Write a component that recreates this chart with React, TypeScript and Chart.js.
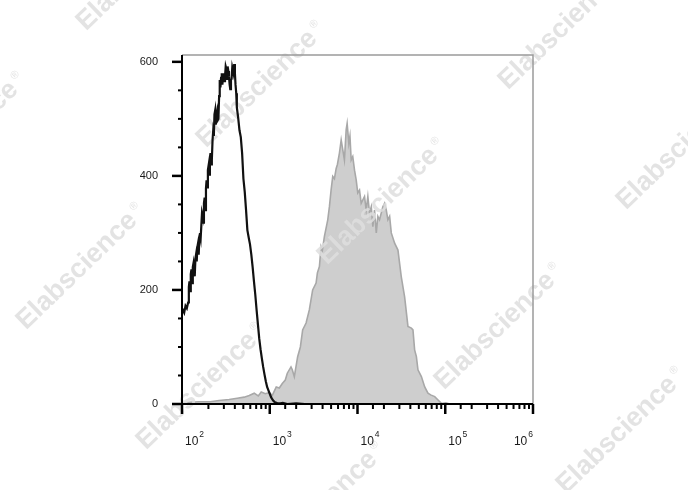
import React, { useEffect, useRef } from "react";
import { Chart, registerables } from "chart.js";

Chart.register(...registerables);

// ---- data (x as log10 of fluorescence intensity, y as event count) ----
const yTickValues = [0, 200, 400, 600];
const yMinorTicks = [50, 100, 150, 250, 300, 350, 450, 500, 550];
const xDecades = [2, 3, 4, 5, 6];

const blackLog = [
  1.98, 1.995, 2.01, 2.025, 2.04, 2.055, 2.07, 2.078, 2.085, 2.093, 2.1, 2.108,
  2.115, 2.123, 2.13, 2.138, 2.145, 2.153, 2.16, 2.168, 2.175, 2.183, 2.19, 2.198,
  2.205, 2.213, 2.22, 2.228, 2.235, 2.243, 2.25, 2.258, 2.265, 2.273, 2.28, 2.288,
  2.295, 2.303, 2.31, 2.318, 2.325, 2.333, 2.34, 2.348, 2.355, 2.363, 2.37, 2.378,
  2.385, 2.393, 2.4, 2.408, 2.415, 2.423, 2.43, 2.438, 2.445, 2.453, 2.46, 2.468,
  2.475, 2.483, 2.49, 2.498, 2.505, 2.513, 2.52, 2.528, 2.535, 2.543, 2.55, 2.558,
  2.565, 2.573, 2.58, 2.588, 2.595, 2.603, 2.61, 2.618, 2.625, 2.64, 2.655, 2.67,
  2.685, 2.7, 2.715, 2.73, 2.745, 2.76, 2.775, 2.79, 2.805, 2.82, 2.835, 2.85,
  2.865, 2.88, 2.895, 2.91, 2.925, 2.94, 2.955, 2.97, 2.985, 3.0, 3.015, 3.03,
  3.045, 3.06, 3.075, 3.09, 3.12, 3.15, 3.2, 3.3, 3.4, 4.0, 6.0,
];
const blackCounts = [
  150, 158, 165, 160, 172, 168, 178, 205, 215, 198, 228, 236,
  212, 240, 246, 230, 224, 255, 262, 250, 275, 282, 262, 290,
  300, 292, 312, 335, 330, 318, 352, 362, 340, 378, 392, 380,
  410, 418, 402, 432, 440, 420, 428, 462, 478, 470, 508, 515,
  490, 505, 512, 498, 500, 540, 568, 555, 572, 580, 560, 575,
  580, 566, 574, 592, 588, 570, 592, 584, 575, 560, 552, 568,
  570, 590, 585, 576, 596, 580, 560, 545, 520, 502, 480, 468,
  440, 395, 372, 340, 305, 292, 280, 262, 240, 215, 192, 165,
  140, 115, 96, 80, 65, 52, 40, 30, 24, 18, 12, 8,
  5, 3, 2, 1, 1, 2, 0, 1, 0, 0, 0,
];

const greyLog = [
  2.0, 2.08, 2.194, 2.32, 2.423, 2.537, 2.629, 2.709, 2.766, 2.823, 2.869, 2.903,
  2.949, 2.994, 3.029, 3.074, 3.109, 3.143, 3.177, 3.2, 3.242, 3.257, 3.28, 3.318,
  3.349, 3.375, 3.414, 3.451, 3.489, 3.528, 3.543, 3.566, 3.585, 3.6, 3.623, 3.661,
  3.68, 3.699, 3.718, 3.737, 3.757, 3.771, 3.794, 3.814, 3.832, 3.851, 3.871, 3.882,
  3.901, 3.914, 3.928, 3.946, 3.966, 3.985, 4.003, 4.023, 4.042, 4.08, 4.099, 4.118,
  4.137, 4.157, 4.175, 4.194, 4.214, 4.232, 4.251, 4.289, 4.309, 4.328, 4.346, 4.366,
  4.385, 4.423, 4.461, 4.499, 4.537, 4.575, 4.614, 4.632, 4.651, 4.671, 4.689, 4.728,
  4.766, 4.803, 4.834, 4.88, 4.918, 4.957, 5.006, 5.051, 5.166,
];
const greyCounts = [
  2, 3, 4, 4, 6, 8, 10, 12, 15, 19, 14, 21,
  18, 20, 15, 30, 28, 36, 42, 54, 65, 60, 48, 83,
  100, 130, 142, 165, 200, 212, 230, 241, 276, 270, 294, 323,
  346, 375, 399, 395, 413, 420, 440, 463, 446, 428, 481, 492,
  457, 470, 428, 434, 410, 393, 370, 375, 352, 364, 340, 364,
  335, 346, 311, 340, 300, 329, 323, 346, 352, 340, 323, 329,
  300, 282, 270, 223, 188, 136, 133, 130, 95, 83, 60, 48,
  30, 19, 16, 13, 7, 1, 2, 0, 0,
];

const watermarkText = "Elabscience";
const watermarkCenters: [number, number][] = [
  [137, -28], [257, 89], [378, 206], [495, 331], [617, 435],
  [-42, 140], [77, 271], [197, 391], [317, 510],
  [559, 31], [677, 151],
];

const FONT = "'Liberation Sans', Arial, Helvetica, sans-serif";

function drawWatermark(ctx: CanvasRenderingContext2D) {
  ctx.save();
  ctx.fillStyle = "rgba(222,222,222,0.85)";
  ctx.textBaseline = "middle";
  for (const [cx, cy] of watermarkCenters) {
    ctx.save();
    ctx.translate(cx, cy);
    ctx.rotate((-44 * Math.PI) / 180);
    ctx.font = `bold 27px ${FONT}`;
    const w = ctx.measureText(watermarkText).width;
    ctx.textAlign = "left";
    ctx.fillText(watermarkText, -w / 2, 0);
    ctx.font = `11px ${FONT}`;
    ctx.fillText("\u00AE", w / 2 + 4, -7);
    ctx.restore();
  }
  ctx.restore();
}

export default function App() {
  const ref = useRef<HTMLCanvasElement>(null);

  useEffect(() => {
    const canvas = ref.current;
    if (!canvas) return;

    const decor = {
      id: "decor",
      afterDatasetDraw(chart: any, args: any) {
        if (args.index !== 1) return;
        drawWatermark(chart.ctx);
      },
      afterDraw(chart: any) {
        const ctx: CanvasRenderingContext2D = chart.ctx;
        const { left, right, top, bottom } = chart.chartArea;
        const xs = chart.scales.x;
        const ys = chart.scales.y;
        ctx.save();
        // frame (top & right)
        ctx.strokeStyle = "#9a9a9a";
        ctx.lineWidth = 1.5;
        ctx.beginPath();
        ctx.moveTo(left, top);
        ctx.lineTo(right, top);
        ctx.lineTo(right, bottom);
        ctx.stroke();

        ctx.strokeStyle = "#000";
        // y ticks
        for (const v of yTickValues) {
          const py = ys.getPixelForValue(v);
          ctx.lineWidth = 2.5;
          ctx.beginPath();
          ctx.moveTo(left - 10, py);
          ctx.lineTo(left, py);
          ctx.stroke();
        }
        for (const v of yMinorTicks) {
          const py = ys.getPixelForValue(v);
          ctx.lineWidth = 2;
          ctx.beginPath();
          ctx.moveTo(left - 4, py);
          ctx.lineTo(left, py);
          ctx.stroke();
        }
        // x ticks from the log scale
        for (const t of xs.ticks) {
          const v = t.value;
          const e = Math.log10(v);
          const major = Math.abs(e - Math.round(e)) < 1e-9;
          const px = xs.getPixelForValue(v);
          ctx.lineWidth = major ? 2.5 : 2;
          ctx.beginPath();
          ctx.moveTo(px, bottom);
          ctx.lineTo(px, bottom + (major ? 10 : 5));
          ctx.stroke();
        }
        // axis lines
        ctx.lineWidth = 2;
        ctx.beginPath();
        ctx.moveTo(left, top);
        ctx.lineTo(left, bottom);
        ctx.lineTo(right, bottom);
        ctx.stroke();

        // x labels 10^n
        ctx.fillStyle = "#1a1a1a";
        ctx.textBaseline = "alphabetic";
        xDecades.forEach((n, i) => {
          const px = xs.getPixelForValue(Math.pow(10, n));
          ctx.font = `12px ${FONT}`;
          const wBase = ctx.measureText("10").width;
          ctx.font = `8.5px ${FONT}`;
          const wExp = ctx.measureText(String(n)).width;
          const total = wBase + 1 + wExp;
          let x0 = px + 3;
          if (i === xDecades.length - 1) x0 = px - total;
          ctx.font = `12px ${FONT}`;
          ctx.textAlign = "left";
          ctx.fillText("10", x0, bottom + 41);
          ctx.font = `8.5px ${FONT}`;
          ctx.fillText(String(n), x0 + wBase + 1, bottom + 33);
        });
        ctx.restore();
      },
    };

    const chart = new Chart(canvas, {
      type: "line",
      data: {
        datasets: [
          {
            label: "Control",
            data: blackLog.map((e, i) => ({ x: Math.pow(10, e), y: blackCounts[i] })),
            borderColor: "#111111",
            borderWidth: 2.2,
            fill: false,
            pointRadius: 0,
            tension: 0,
          },
          {
            label: "Stained",
            data: greyLog.map((e, i) => ({ x: Math.pow(10, e), y: greyCounts[i] })),
            borderColor: "#a8a8a8",
            backgroundColor: "#cecece",
            borderWidth: 1.6,
            fill: "origin",
            pointRadius: 0,
            tension: 0,
          },
        ],
      },
      options: {
        animation: false,
        responsive: true,
        maintainAspectRatio: false,
        layout: { padding: { top: 55, right: 155, left: 0, bottom: 0 } },
        plugins: {
          legend: { display: false },
          tooltip: { enabled: false },
        },
        scales: {
          x: {
            type: "logarithmic",
            min: 100,
            max: 1000000,
            grid: { display: false },
            border: { display: false },
            ticks: { display: false },
            afterFit: (s: any) => {
              s.height = 86;
            },
          },
          y: {
            type: "linear",
            min: 0,
            max: 612,
            grid: { display: false },
            border: { display: false },
            afterBuildTicks: (s: any) => {
              s.ticks = yTickValues.map((v) => ({ value: v }));
            },
            ticks: {
              padding: 16,
              color: "#1a1a1a",
              font: { family: FONT, size: 11 },
            },
            afterFit: (s: any) => {
              s.width = 182;
            },
          },
        },
      },
      plugins: [decor],
    });

    return () => chart.destroy();
  }, []);

  return (
    <div
      style={{
        position: "fixed",
        left: 0,
        top: 0,
        width: 688,
        height: 490,
        background: "#ffffff",
      }}
    >
      <canvas ref={ref} />
    </div>
  );
}
